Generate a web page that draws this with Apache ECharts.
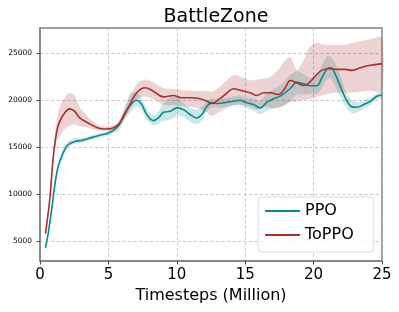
<!DOCTYPE html>
<html><head><meta charset="utf-8">
<script src="https://cdn.jsdelivr.net/npm/echarts@6/dist/echarts.min.js"></script>
<style>html,body{margin:0;padding:0;background:#fff}#c{width:399px;height:312px}</style>
</head><body><div id="c"></div>
<script>
const titleText = 'BattleZone';
const xName = 'Timesteps (Million)';
const yTicks = [5000, 10000, 15000, 20000, 25000];

const ppoX = [0.4,0.6,0.85,1.07,1.32,1.68,2.05,2.54,3.0,3.5,4.24,5.0,5.7,6.2,6.6,7.07,7.44,7.8,8.29,8.66,9.02,9.51,10.0,10.49,10.98,11.46,11.83,12.2,12.56,13.05,13.66,14.15,14.63,15.0,15.6,16.1,16.59,17.07,17.56,18.29,18.78,19.27,19.76,20.24,20.61,20.98,21.27,21.59,21.95,22.32,22.8,23.17,23.66,24.15,24.63,25.0];
const ppoMean = [4250,5800,8300,10800,12900,14350,15250,15600,15700,15900,16220,16500,17200,18600,19500,20000,19540,18470,17830,18110,18710,18820,19180,19000,18470,18110,18470,19360,19720,19650,19790,19890,20000,19790,19540,19180,19790,20150,20430,21250,21900,21750,21550,21550,22400,23360,23470,22750,21500,20260,19290,19250,19540,19890,20430,20540];
const ppoLow = [3950,5450,7900,10400,12500,14000,14950,15350,15450,15650,16000,16250,16700,17900,18700,19300,18900,17900,17300,17500,17800,17900,18300,18200,17700,17400,17800,18800,19200,19200,19300,19400,19500,19200,18900,18500,18900,19100,19300,19900,20600,20600,20700,20700,21300,22200,22300,21500,20300,19300,18600,18700,19100,19500,20100,20250];
const ppoHigh = [4550,6150,8700,11200,13300,14700,15600,15950,15950,16150,16450,16750,17600,19300,20800,20800,20200,19100,18400,18800,19700,20300,20400,19700,19200,19000,19300,19900,20200,20100,20300,20400,20500,20300,20200,19900,20800,21200,21600,22700,23100,22800,22400,22500,23700,24700,24600,23900,22700,21100,20000,19800,20000,20300,20750,20850];

const toppoX = [0.4,0.71,0.95,1.2,1.44,1.8,2.17,2.54,2.9,3.51,4.24,4.73,5.34,5.83,6.44,7.07,7.68,8.29,9.02,9.75,10.37,10.98,11.71,12.2,12.56,13.05,13.54,14.15,14.63,15.37,15.85,16.34,16.83,17.44,17.93,18.29,18.78,19.27,19.63,20.12,20.61,21.1,21.71,22.32,22.8,23.41,24.15,25.0];
const toppoMean = [5790,9360,13650,16500,17750,18650,19080,18820,18110,17580,17040,16930,17040,17580,19180,20790,21330,20960,20360,20500,20260,20260,20150,19890,19650,20070,20610,21220,21070,20790,20500,20790,20790,20610,21330,22100,21860,21570,21790,22570,23210,23360,23290,23290,23180,23470,23720,23900];
const toppoLow = [5500,9000,13000,15500,16200,16900,17300,17400,17200,17100,16750,16700,16800,17300,18700,20100,20400,20100,19500,19500,19400,19300,19100,18700,18300,18700,19100,19500,19500,19300,19000,19300,19200,19200,19500,19800,19900,20000,20100,20300,20500,20700,20800,20800,20800,20900,21000,21000];
const toppoHigh = [6100,9800,14300,17600,19300,20300,20800,20500,19300,18200,17350,17200,17300,17900,19900,21700,22200,21900,21300,21200,21100,21000,21000,21000,20900,21300,22000,22700,22500,22100,22200,22300,22500,23300,24300,24600,23200,24300,25500,26100,26000,25900,25900,25900,26100,26300,26500,26700];

const PPO_COLOR = '#0b8a8a';
const TOPPO_COLOR = '#ad2e2e';

function bandSeries(xs, lo, hi, fill) {
  return {
    type: 'custom',
    silent: true,
    z: 1,
    data: xs.map((x, i) => [x, lo[i], hi[i]]),
    encode: { x: 0, y: [1, 2] },
    renderItem: function (params, api) {
      if (params.dataIndex !== 0) return null;
      const pts = [];
      for (let i = 0; i < xs.length; i++) pts.push(api.coord([xs[i], hi[i]]));
      for (let i = xs.length - 1; i >= 0; i--) pts.push(api.coord([xs[i], lo[i]]));
      return { type: 'polygon', shape: { points: pts, smooth: 0.25 }, style: { fill: fill, stroke: null } };
    }
  };
}

const chart = echarts.init(document.getElementById('c'), null, { renderer: 'canvas' });
const gridLineStyle = { color: '#b8b8b8', width: 0.8, type: [3, 2.5] };
chart.setOption({
  animation: false,
  backgroundColor: '#fff',
  title: {
    text: titleText, left: 211, top: 3, textAlign: 'center',
    textStyle: { fontFamily: 'DejaVu Sans', fontSize: 19, fontWeight: 'normal', color: '#000' }
  },
  grid: { left: 40, right: 17, top: 28, bottom: 51, show: true, borderColor: '#808080', borderWidth: 1.5, containLabel: false },
  legend: {
    orient: 'vertical', left: 258, top: 197,
    data: ['PPO', 'ToPPO'],
    icon: 'rect', itemWidth: 35, itemHeight: 2,
    itemGap: 6, itemTextGap: 15,
    padding: [5, 20, 8, 7],
    backgroundColor: 'rgba(255,255,255,0.8)', borderColor: '#dcdcdc', borderWidth: 1, borderRadius: 4,
    textStyle: { fontFamily: 'DejaVu Sans', fontSize: 16, color: '#000', lineHeight: 18 }
  },
  xAxis: {
    type: 'value', min: 0, max: 25, interval: 5,
    name: xName, nameLocation: 'middle', nameGap: 25,
    nameTextStyle: { fontFamily: 'DejaVu Sans', fontSize: 16, color: '#000' },
    axisLine: { show: true, lineStyle: { color: '#808080', width: 1.5 } },
    axisTick: { show: true, inside: false, length: 3.5, lineStyle: { color: '#444' } },
    axisLabel: { fontFamily: 'DejaVu Sans', fontSize: 15, color: '#000', margin: 7 },
    splitLine: { show: true, lineStyle: gridLineStyle }
  },
  yAxis: {
    type: 'value', min: 2860, max: 27700,
    axisLine: { show: true, lineStyle: { color: '#808080', width: 1.5 } },
    axisTick: { show: true, length: 3.5, customValues: yTicks, lineStyle: { color: '#444' } },
    axisLabel: { fontFamily: 'DejaVu Sans', fontSize: 7.5, color: '#000', margin: 8, customValues: yTicks,
      formatter: v => String(Math.round(v)) },
    splitLine: { show: false }
  },
  series: [
    bandSeries(ppoX, ppoLow, ppoHigh, 'rgba(0,139,139,0.2)'),
    bandSeries(toppoX, toppoLow, toppoHigh, 'rgba(165,42,42,0.2)'),
    {
      name: 'PPO', type: 'line', z: 3, smooth: 0.35, showSymbol: false,
      data: ppoX.map((x, i) => [x, ppoMean[i]]),
      lineStyle: { color: PPO_COLOR, width: 1.6 }, itemStyle: { color: PPO_COLOR },
      markLine: {
        silent: true, symbol: 'none', label: { show: false }, z: 0,
        lineStyle: gridLineStyle,
        data: yTicks.map(v => ({ yAxis: v }))
      }
    },
    {
      name: 'ToPPO', type: 'line', z: 4, smooth: 0.35, showSymbol: false,
      data: toppoX.map((x, i) => [x, toppoMean[i]]),
      lineStyle: { color: TOPPO_COLOR, width: 1.6 }, itemStyle: { color: TOPPO_COLOR }
    }
  ]
});
</script></body></html>
